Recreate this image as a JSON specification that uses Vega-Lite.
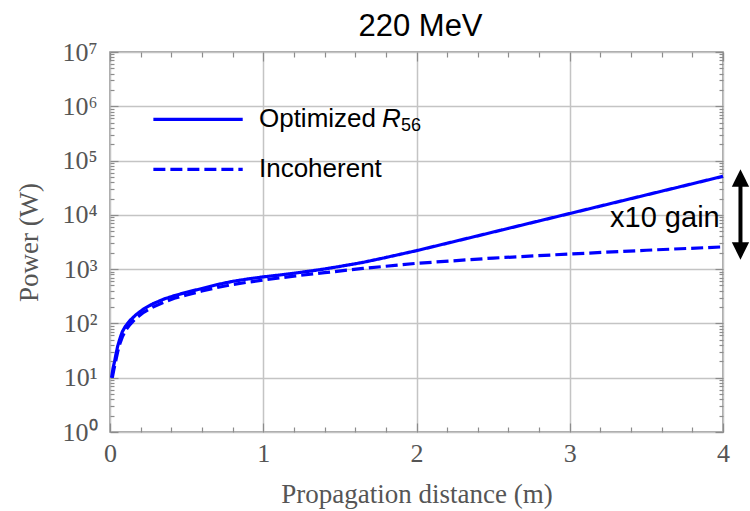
{
  "$schema": "https://vega.github.io/schema/vega-lite/v6.json",
  "width": 613,
  "height": 380,
  "autosize": "none",
  "padding": {"left": 110, "top": 52, "right": 27, "bottom": 79},
  "background": "white",
  "title": {
    "text": "220 MeV",
    "font": "Liberation Sans",
    "fontSize": 31,
    "fontWeight": "normal",
    "color": "black",
    "anchor": "middle",
    "frame": "group",
    "offset": -4,
    "dx": 4
  },
  "config": {
    "view": {"stroke": "#8c8c8c", "strokeWidth": 1.5},
    "axis": {
      "labelFont": "Liberation Serif",
      "labelFontSize": 26,
      "labelColor": "#555555",
      "titleFont": "Liberation Serif",
      "titleFontSize": 27,
      "titleFontWeight": "normal",
      "titleColor": "#555555",
      "domain": false,
      "tickColor": "#8c8c8c",
      "tickWidth": 1.2,
      "gridColor": "#c4c4c4",
      "gridWidth": 1.5,
      "labelOverlap": false,
      "labelBound": false,
      "labelFlush": false
    }
  },
  "datasets": {
    "curves": [
      {"series": "Optimized", "x": 0.01, "p": 10},
      {"series": "Optimized", "x": 0.02, "p": 15},
      {"series": "Optimized", "x": 0.03, "p": 20},
      {"series": "Optimized", "x": 0.04, "p": 28},
      {"series": "Optimized", "x": 0.05, "p": 38},
      {"series": "Optimized", "x": 0.065, "p": 53},
      {"series": "Optimized", "x": 0.08, "p": 70},
      {"series": "Optimized", "x": 0.1, "p": 88},
      {"series": "Optimized", "x": 0.13, "p": 113},
      {"series": "Optimized", "x": 0.17, "p": 145},
      {"series": "Optimized", "x": 0.22, "p": 185},
      {"series": "Optimized", "x": 0.28, "p": 230},
      {"series": "Optimized", "x": 0.35, "p": 280},
      {"series": "Optimized", "x": 0.42, "p": 325},
      {"series": "Optimized", "x": 0.5, "p": 375},
      {"series": "Optimized", "x": 0.6, "p": 440},
      {"series": "Optimized", "x": 0.7, "p": 520},
      {"series": "Optimized", "x": 0.8, "p": 595},
      {"series": "Optimized", "x": 0.9, "p": 660},
      {"series": "Optimized", "x": 1.0, "p": 720},
      {"series": "Optimized", "x": 1.1, "p": 776},
      {"series": "Optimized", "x": 1.2, "p": 841},
      {"series": "Optimized", "x": 1.3, "p": 916},
      {"series": "Optimized", "x": 1.4, "p": 1007},
      {"series": "Optimized", "x": 1.5, "p": 1122},
      {"series": "Optimized", "x": 1.65, "p": 1330},
      {"series": "Optimized", "x": 1.8, "p": 1640},
      {"series": "Optimized", "x": 2.0, "p": 2190},
      {"series": "Optimized", "x": 2.2, "p": 3000},
      {"series": "Optimized", "x": 2.4, "p": 4110},
      {"series": "Optimized", "x": 2.6, "p": 5640},
      {"series": "Optimized", "x": 2.8, "p": 7730},
      {"series": "Optimized", "x": 3.0, "p": 10590},
      {"series": "Optimized", "x": 3.2, "p": 14520},
      {"series": "Optimized", "x": 3.4, "p": 19910},
      {"series": "Optimized", "x": 3.6, "p": 27290},
      {"series": "Optimized", "x": 3.8, "p": 37410},
      {"series": "Optimized", "x": 4.0, "p": 51290},
      {"series": "Incoherent", "x": 0.015, "p": 10},
      {"series": "Incoherent", "x": 0.025, "p": 14},
      {"series": "Incoherent", "x": 0.035, "p": 19},
      {"series": "Incoherent", "x": 0.05, "p": 30},
      {"series": "Incoherent", "x": 0.065, "p": 43},
      {"series": "Incoherent", "x": 0.08, "p": 56},
      {"series": "Incoherent", "x": 0.1, "p": 73},
      {"series": "Incoherent", "x": 0.13, "p": 95},
      {"series": "Incoherent", "x": 0.17, "p": 125},
      {"series": "Incoherent", "x": 0.22, "p": 160},
      {"series": "Incoherent", "x": 0.28, "p": 200},
      {"series": "Incoherent", "x": 0.35, "p": 245},
      {"series": "Incoherent", "x": 0.42, "p": 290},
      {"series": "Incoherent", "x": 0.5, "p": 335},
      {"series": "Incoherent", "x": 0.6, "p": 395},
      {"series": "Incoherent", "x": 0.7, "p": 460},
      {"series": "Incoherent", "x": 0.8, "p": 520},
      {"series": "Incoherent", "x": 0.9, "p": 575},
      {"series": "Incoherent", "x": 1.0, "p": 630},
      {"series": "Incoherent", "x": 1.2, "p": 745},
      {"series": "Incoherent", "x": 1.4, "p": 860},
      {"series": "Incoherent", "x": 1.65, "p": 1030},
      {"series": "Incoherent", "x": 2.0, "p": 1280},
      {"series": "Incoherent", "x": 2.5, "p": 1600},
      {"series": "Incoherent", "x": 3.0, "p": 1900},
      {"series": "Incoherent", "x": 3.5, "p": 2230},
      {"series": "Incoherent", "x": 4.0, "p": 2570}
    ],
    "key": [
      {"series": "Optimized", "x": 0.283, "x2": 0.866, "p": 575000},
      {"series": "Incoherent", "x": 0.283, "x2": 0.866, "p": 69000}
    ],
    "keyText": [
      {"text": "Optimized", "x": 0.972, "p": 575000},
      {"text": "Incoherent", "x": 0.972, "p": 69000}
    ],
    "keySymbol": [{"text": "R", "x": 1.775, "p": 575000}],
    "keySub": [{"text": "56", "x": 1.899, "p": 440000}],
    "shaft": [{"x": 4.114, "p": 34000, "p2": 3030}],
    "heads": [
      {"part": "up", "x": 4.114, "p": 47750},
      {"part": "down", "x": 4.114, "p": 2160}
    ],
    "gain": [{"text": "x10 gain", "x": 3.263, "p": 8750}]
  },
  "resolve": {"axis": {"x": "independent", "y": "independent"}},
  "layer": [
    {
      "data": {"name": "curves"},
      "mark": {"type": "line", "color": "#0000ff", "strokeWidth": 3.2},
      "encoding": {
        "x": {
          "field": "x",
          "type": "quantitative",
          "scale": {"domain": [0, 4], "nice": false, "zero": false},
          "axis": {
            "orient": "bottom",
            "title": "Propagation distance (m)",
            "titlePadding": 11,
            "values": [0, 0.2, 0.4, 0.6, 0.8, 1, 1.2, 1.4, 1.6, 1.8, 2, 2.2, 2.4, 2.6, 2.8, 3, 3.2, 3.4, 3.6, 3.8, 4],
            "labelExpr": "datum.value % 1 === 0 ? format(datum.value, 'd') : ''",
            "labelPadding": 17,
            "tickSize": {"condition": {"test": "datum.value % 1 === 0", "value": -9}, "value": -5},
            "grid": true,
            "gridOpacity": {"condition": {"test": "datum.value % 1 === 0", "value": 1}, "value": 0}
          }
        },
        "y": {
          "field": "p",
          "type": "quantitative",
          "scale": {"type": "log", "domain": [1, 10000000], "nice": false},
          "axis": {
            "orient": "left",
            "title": "Power (W)",
            "titlePadding": 18,
            "values": [1, 2, 3, 4, 5, 6, 7, 8, 9, 10, 20, 30, 40, 50, 60, 70, 80, 90, 100, 200, 300, 400, 500, 600, 700, 800, 900, 1000, 2000, 3000, 4000, 5000, 6000, 7000, 8000, 9000, 10000, 20000, 30000, 40000, 50000, 60000, 70000, 80000, 90000, 100000, 200000, 300000, 400000, 500000, 600000, 700000, 800000, 900000, 1000000, 2000000, 3000000, 4000000, 5000000, 6000000, 7000000, 8000000, 9000000, 10000000],
            "labelExpr": "abs(log(datum.value) / LN10 - round(log(datum.value) / LN10)) < 0.000001 ? '10' + ['⁰', '¹', '²', '³', '⁴', '⁵', '⁶', '⁷'][round(log(datum.value) / LN10)] : ''",
            "labelPadding": 21,
            "labelBaseline": "middle",
            "tickSize": {"condition": {"test": "abs(log(datum.value) / LN10 - round(log(datum.value) / LN10)) < 0.000001", "value": -8}, "value": -4},
            "grid": true,
            "gridOpacity": {"condition": {"test": "abs(log(datum.value) / LN10 - round(log(datum.value) / LN10)) < 0.000001", "value": 1}, "value": 0}
          }
        },
        "strokeDash": {
          "field": "series",
          "type": "nominal",
          "scale": {"domain": ["Optimized", "Incoherent"], "range": [[1, 0], [12, 5]]},
          "legend": null
        }
      }
    },
    {
      "data": {"name": "curves"},
      "mark": {"type": "point", "opacity": 0},
      "encoding": {
        "x": {
          "field": "x",
          "type": "quantitative",
          "scale": {"domain": [0, 4], "nice": false, "zero": false},
          "axis": {
            "orient": "top",
            "title": null,
            "labels": false,
            "grid": false,
            "values": [0, 0.2, 0.4, 0.6, 0.8, 1, 1.2, 1.4, 1.6, 1.8, 2, 2.2, 2.4, 2.6, 2.8, 3, 3.2, 3.4, 3.6, 3.8, 4],
            "tickSize": {"condition": {"test": "datum.value % 1 === 0", "value": -9}, "value": -5}
          }
        },
        "y": {
          "field": "p",
          "type": "quantitative",
          "scale": {"type": "log", "domain": [1, 10000000], "nice": false},
          "axis": {
            "orient": "right",
            "title": null,
            "labels": false,
            "grid": false,
            "values": [1, 2, 3, 4, 5, 6, 7, 8, 9, 10, 20, 30, 40, 50, 60, 70, 80, 90, 100, 200, 300, 400, 500, 600, 700, 800, 900, 1000, 2000, 3000, 4000, 5000, 6000, 7000, 8000, 9000, 10000, 20000, 30000, 40000, 50000, 60000, 70000, 80000, 90000, 100000, 200000, 300000, 400000, 500000, 600000, 700000, 800000, 900000, 1000000, 2000000, 3000000, 4000000, 5000000, 6000000, 7000000, 8000000, 9000000, 10000000],
            "tickSize": {"condition": {"test": "abs(log(datum.value) / LN10 - round(log(datum.value) / LN10)) < 0.000001", "value": -8}, "value": -4}
          }
        }
      }
    },
    {
      "data": {"name": "key"},
      "mark": {"type": "rule", "color": "#0000ff", "strokeWidth": 3.2},
      "encoding": {
        "x": {"field": "x", "type": "quantitative", "scale": {"domain": [0, 4], "nice": false, "zero": false}, "axis": null},
        "x2": {"field": "x2"},
        "y": {"field": "p", "type": "quantitative", "scale": {"type": "log", "domain": [1, 10000000], "nice": false}, "axis": null},
        "strokeDash": {
          "field": "series",
          "type": "nominal",
          "scale": {"domain": ["Optimized", "Incoherent"], "range": [[1, 0], [12, 5]]},
          "legend": null
        }
      }
    },
    {
      "data": {"name": "keyText"},
      "mark": {"type": "text", "font": "Liberation Sans", "fontSize": 26, "color": "black", "align": "left", "baseline": "middle"},
      "encoding": {
        "x": {"field": "x", "type": "quantitative", "scale": {"domain": [0, 4], "nice": false, "zero": false}, "axis": null},
        "y": {"field": "p", "type": "quantitative", "scale": {"type": "log", "domain": [1, 10000000], "nice": false}, "axis": null},
        "text": {"field": "text"}
      }
    },
    {
      "data": {"name": "keySymbol"},
      "mark": {"type": "text", "font": "Liberation Sans", "fontSize": 26, "fontStyle": "italic", "color": "black", "align": "left", "baseline": "middle"},
      "encoding": {
        "x": {"field": "x", "type": "quantitative", "scale": {"domain": [0, 4], "nice": false, "zero": false}, "axis": null},
        "y": {"field": "p", "type": "quantitative", "scale": {"type": "log", "domain": [1, 10000000], "nice": false}, "axis": null},
        "text": {"field": "text"}
      }
    },
    {
      "data": {"name": "keySub"},
      "mark": {"type": "text", "font": "Liberation Sans", "fontSize": 18, "color": "black", "align": "left", "baseline": "middle"},
      "encoding": {
        "x": {"field": "x", "type": "quantitative", "scale": {"domain": [0, 4], "nice": false, "zero": false}, "axis": null},
        "y": {"field": "p", "type": "quantitative", "scale": {"type": "log", "domain": [1, 10000000], "nice": false}, "axis": null},
        "text": {"field": "text"}
      }
    },
    {
      "data": {"name": "gain"},
      "mark": {"type": "text", "font": "Liberation Sans", "fontSize": 29, "color": "black", "align": "left", "baseline": "middle"},
      "encoding": {
        "x": {"field": "x", "type": "quantitative", "scale": {"domain": [0, 4], "nice": false, "zero": false}, "axis": null},
        "y": {"field": "p", "type": "quantitative", "scale": {"type": "log", "domain": [1, 10000000], "nice": false}, "axis": null},
        "text": {"field": "text"}
      }
    },
    {
      "data": {"name": "shaft"},
      "mark": {"type": "rule", "color": "black", "strokeWidth": 4},
      "encoding": {
        "x": {"field": "x", "type": "quantitative", "scale": {"domain": [0, 4], "nice": false, "zero": false}, "axis": null},
        "y": {"field": "p", "type": "quantitative", "scale": {"type": "log", "domain": [1, 10000000], "nice": false}, "axis": null},
        "y2": {"field": "p2"}
      }
    },
    {
      "data": {"name": "heads"},
      "mark": {"type": "point", "filled": true, "color": "black", "opacity": 1, "size": 300},
      "encoding": {
        "x": {"field": "x", "type": "quantitative", "scale": {"domain": [0, 4], "nice": false, "zero": false}, "axis": null},
        "y": {"field": "p", "type": "quantitative", "scale": {"type": "log", "domain": [1, 10000000], "nice": false}, "axis": null},
        "shape": {
          "field": "part",
          "type": "nominal",
          "scale": {"domain": ["up", "down"], "range": ["M0,-1L1,1L-1,1Z", "M0,1L1,-1L-1,-1Z"]},
          "legend": null
        }
      }
    }
  ]
}
